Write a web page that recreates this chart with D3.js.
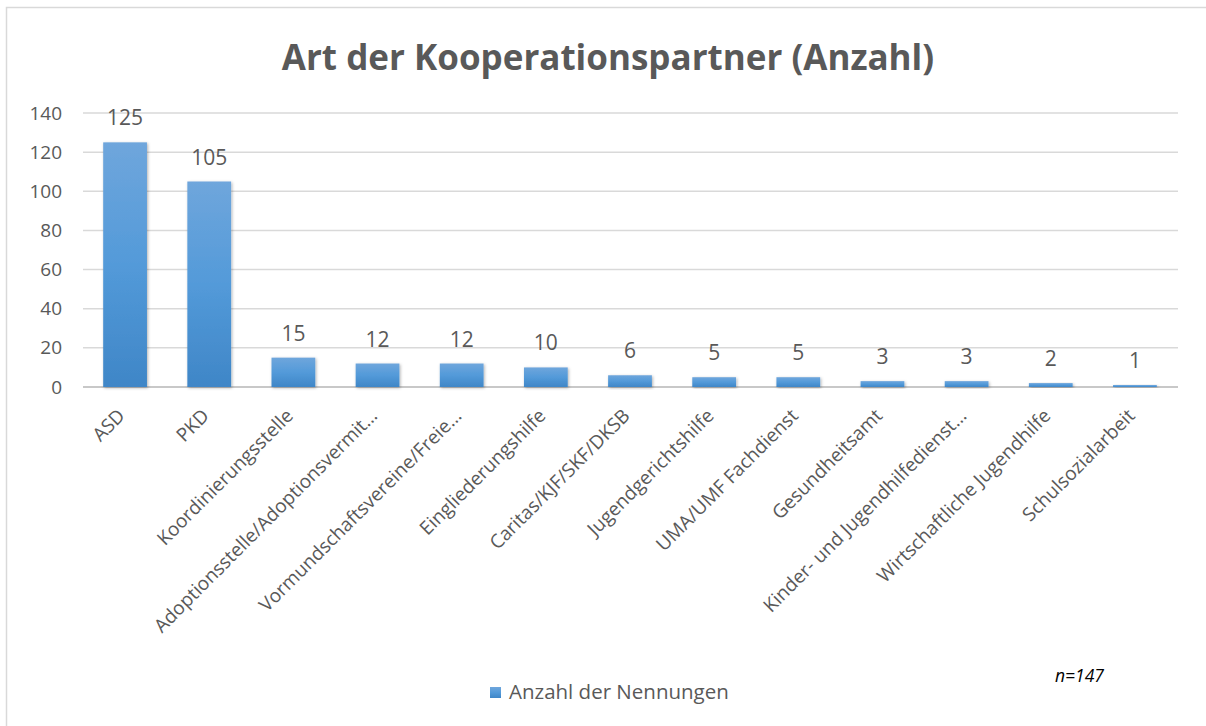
<!DOCTYPE html>
<html><head><meta charset="utf-8">
<script src="https://cdn.jsdelivr.net/npm/d3@7"></script>
<style>body{margin:0;background:#fff}svg{display:block}text{font-family:"Open Sans",sans-serif;fill:#595959}</style>
</head><body>
<svg id="c" width="1206" height="726"></svg>
<script>
const categories = ["ASD","PKD","Koordinierungsstelle","Adoptionsstelle/Adoptionsvermit…","Vormundschaftsvereine/Freie…","Eingliederungshilfe","Caritas/KJF/SKF/DKSB","Jugendgerichtshilfe","UMA/UMF Fachdienst","Gesundheitsamt","Kinder- und Jugendhilfedienst…","Wirtschaftliche Jugendhilfe","Schulsozialarbeit"];
const values = [125,105,15,12,12,10,6,5,5,3,3,2,1];
const yTicks = [0,20,40,60,80,100,120,140];
const seriesName = "Anzahl der Nennungen";
const title = "Art der Kooperationspartner (Anzahl)";
const note = "n=147";

const svg = d3.select("#c");
const defs = svg.append("defs");
const g1 = defs.append("linearGradient").attr("id","bg").attr("x1",0).attr("y1",0).attr("x2",0).attr("y2",1);
g1.append("stop").attr("offset","0%").attr("stop-color","#6fa6dc");
g1.append("stop").attr("offset","50%").attr("stop-color","#539ad9");
g1.append("stop").attr("offset","100%").attr("stop-color","#3f86c7");
const f = defs.append("filter").attr("id","sh").attr("x","-20%").attr("y","-20%").attr("width","140%").attr("height","140%");
f.append("feDropShadow").attr("dx",1).attr("dy",1).attr("stdDeviation",1.5).attr("flood-color","#000").attr("flood-opacity",0.3);

svg.append("rect").attr("x",6.5).attr("y",7.5).attr("width",1210).attr("height",730)
  .attr("fill","#fff").attr("stroke","#d9d9d9").attr("stroke-width",1.5);

const x = d3.scaleBand().domain(categories).range([83,1177]).paddingInner(0.48).paddingOuter(0.24);
const y = d3.scaleLinear().domain([0,140]).range([387,113]);

svg.append("text").attr("x",608).attr("y",70).attr("text-anchor","middle")
  .style("font-size","35px").style("font-weight","bold").text(title);

const grid = svg.append("g");
grid.selectAll("line").data(yTicks).join("line")
  .attr("x1",83).attr("x2",1178).attr("y1",d=>y(d)).attr("y2",d=>y(d))
  .attr("stroke",d=>d===0?"#c8c8c8":"#d9d9d9").attr("stroke-width",d=>d===0?2:1.5);

const ya = svg.append("g").attr("transform","translate(62,0)")
  .call(d3.axisLeft(y).tickValues(yTicks).tickSize(0).tickPadding(0));
ya.select(".domain").remove();
ya.selectAll("text").style("font-size","19px").style("fill","#595959").style("font-family","'Open Sans',sans-serif");

svg.append("g").selectAll("rect").data(values).join("rect")
  .attr("x",(d,i)=>x(categories[i])).attr("width",x.bandwidth())
  .attr("y",d=>y(d)).attr("height",d=>y(0)-y(d))
  .attr("fill","url(#bg)").attr("filter","url(#sh)");

svg.append("g").selectAll("text").data(values).join("text")
  .attr("x",(d,i)=>x(categories[i])+x.bandwidth()/2).attr("y",d=>y(d)-17)
  .attr("text-anchor","middle").style("font-size","21px").text(d=>d);

const xa = svg.append("g").attr("transform","translate(0,387)")
  .call(d3.axisBottom(x).tickSize(0).tickPadding(0));
xa.select(".domain").remove();
xa.selectAll("text").attr("text-anchor","end").attr("dy",null).attr("y",0)
  .attr("transform","translate(1,30) rotate(-45)")
  .style("font-size","19px").style("fill","#595959").style("font-family","'Open Sans',sans-serif");

svg.append("rect").attr("x",490).attr("y",687).attr("width",11).attr("height",11).attr("fill","url(#bg)");
svg.append("text").attr("x",509).attr("y",699).style("font-size","20.5px").text(seriesName);
svg.append("text").attr("x",1055).attr("y",682).style("font-size","17.5px").style("font-style","italic").style("fill","#000").text(note);
</script>
</body></html>
